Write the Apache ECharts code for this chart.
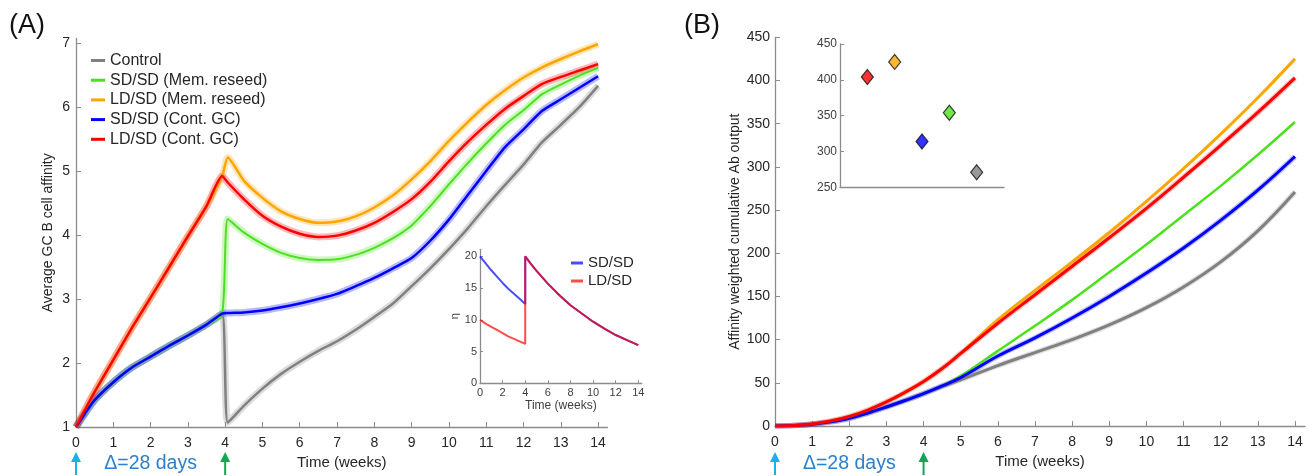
<!DOCTYPE html>
<html><head><meta charset="utf-8">
<script src="https://cdn.jsdelivr.net/npm/echarts@6/dist/echarts.min.js"></script>
<style>html,body{margin:0;padding:0;background:#fff}#c{width:1309px;height:476px}</style>
</head><body><div id="c"></div>
<script>
// ---------------- data ----------------
const weekTicks = [0,1,2,3,4,5,6,7,8,9,10,11,12,13,14];
const insetWeekTicks = [0,2,4,6,8,10,12,14];
const affinityTicks = [1,2,3,4,5,6,7];
const etaTicks = [0,5,10,15,20];

const seriesNames = ['Control','SD/SD (Mem. reseed)','LD/SD (Mem. reseed)','SD/SD (Cont. GC)','LD/SD (Cont. GC)'];

// Panel A: average GC B cell affinity
const timeA1 = [0,0.25,0.5,1,1.5,2,2.5,3,3.5,3.92];
const sdPhase1 = [1.0,1.22,1.42,1.7,1.93,2.1,2.27,2.43,2.6,2.77];
const ldPhase1 = [1.0,1.28,1.55,2.05,2.55,3.02,3.5,3.98,4.45,4.92];
const timeA2 = [4.07,4.5,5,5.5,6,6.5,7,7.5,8,8.5,9,9.5,10,10.5,11,11.5,12,12.5,13,13.5,14];
const controlA2  = [1.07,1.33,1.6,1.83,2.02,2.19,2.34,2.52,2.72,2.93,3.2,3.48,3.78,4.1,4.45,4.78,5.1,5.45,5.72,6.0,6.33];
const sdReseedA2 = [4.25,4.04,3.86,3.72,3.64,3.61,3.62,3.69,3.80,3.95,4.15,4.45,4.79,5.12,5.43,5.72,5.95,6.20,6.35,6.49,6.61];
const ldReseedA2 = [5.21,4.85,4.58,4.37,4.25,4.19,4.21,4.29,4.43,4.62,4.87,5.15,5.47,5.76,6.03,6.26,6.46,6.62,6.75,6.87,6.98];
const sdContA2   = [2.78,2.79,2.82,2.87,2.93,3.0,3.08,3.2,3.33,3.48,3.64,3.91,4.24,4.62,5.0,5.37,5.65,5.94,6.12,6.30,6.48];
const ldContA2   = [4.82,4.56,4.30,4.13,4.02,3.97,3.99,4.07,4.19,4.36,4.56,4.83,5.15,5.45,5.72,5.97,6.17,6.36,6.47,6.57,6.67];

// Panel A inset: eta
const etaT1 = [0,0.5,1,1.5,2,2.5,3,3.5,4];
const etaSD1 = [20,18.9,17.8,16.8,15.8,14.9,14.1,13.3,12.5];
const etaLD1 = [10,9.4,8.9,8.4,7.9,7.4,7.0,6.6,6.2];
const etaT2 = [4,4.5,5,6,7,8,9,10,11,12,13,14];
const etaBoost = [20,18.8,17.7,15.7,13.9,12.3,11.0,9.7,8.6,7.6,6.8,6.0];

// Panel B: affinity weighted cumulative Ab output
const timeB = [0,0.5,1,1.5,2,2.5,3,3.5,4,4.5,5,6,7,8,9,10,11,12,13,14];
const controlB  = [0,0.5,2.0,4.8,8.9,15,22,29.5,37.5,45.5,53.5,70,85,100,117,137,161,190,226,271];
const sdReseedB = [0,0.5,2.0,4.8,8.9,15,22,29.5,37.5,46.5,58,87,116,146,178,210,244,278,314,352];
const ldReseedB = [0,0.6,2.4,5.8,11,18.5,28,39,51.5,66.5,84,123,157,190,224,260,298,338,380,425];
const sdContB   = [0,0.5,2.0,4.8,8.9,15,22,29.5,37.5,46.5,56,81,102,125,150,177,206,238,273,312];
const ldContB   = [0,0.6,2.4,5.8,11,18.5,28,39,51.5,66.5,84,119,152,185,218,252,288,325,363,403];

// Panel B inset: final output per condition
const insetPos  = [1,2,3,4,5];
const insetVals = [404,425,314,354,271];

// ---------------- styles ----------------
const COLORS = ['#808080','#4ce11e','#ffa500','#0000ff','#ff0000'];
const insetColors = ['#ff0000','#ffa500','#0000ff','#4ce11e','#808080'];
const FONT = 'Liberation Sans, Arial, Helvetica, sans-serif';
const AX = '#8c8c8c', TX = '#262626';

const zip = (t, v) => t.map((x, i) => [x, v[i]]);
const tA = timeA1.concat(timeA2);
const dataA = [
  zip(tA, sdPhase1.concat(controlA2)),
  zip(tA, sdPhase1.concat(sdReseedA2)),
  zip(tA, ldPhase1.concat(ldReseedA2)),
  zip(tA, sdPhase1.concat(sdContA2)),
  zip(tA, ldPhase1.concat(ldContA2))
];
const dataB = [controlB, sdReseedB, ldReseedB, sdContB, ldContB].map(v => zip(timeB, v));

function axisCommon(extra) {
  return Object.assign({
    axisLine: {show: true, onZero: false, lineStyle: {color: AX, width: 1.3}},
    splitLine: {show: false},
    nameTextStyle: {color: TX, fontFamily: FONT}
  }, extra);
}

const series = [];
// halos first
dataA.forEach((d, i) => series.push({
  type: 'line', xAxisIndex: 0, yAxisIndex: 0, data: d, symbol: 'none', silent: true,
  smooth: 0.2, color: COLORS[i],
  lineStyle: {color: COLORS[i], width: 7, opacity: 0.28}, z: 2
}));
dataA.forEach((d, i) => series.push({
  name: seriesNames[i], type: 'line', xAxisIndex: 0, yAxisIndex: 0, data: d, symbol: 'none',
  smooth: 0.2, color: COLORS[i],
  lineStyle: {color: COLORS[i], width: i === 1 ? 2 : 2.5}, z: 3
}));
dataB.forEach((d, i) => series.push({
  type: 'line', xAxisIndex: 1, yAxisIndex: 1, data: d, symbol: 'none', silent: true,
  smooth: 0.4, color: COLORS[i],
  lineStyle: {color: COLORS[i], width: 5.5, opacity: i === 1 || i === 2 ? 0 : 0.25}, z: 2
}));
dataB.forEach((d, i) => series.push({
  name: seriesNames[i] + ' ', type: 'line', xAxisIndex: 1, yAxisIndex: 1, data: d, symbol: 'none',
  smooth: 0.4, color: COLORS[i],
  lineStyle: {color: COLORS[i], width: i === 1 ? 2.5 : 3}, z: 3
}));
series.push({
  name: 'SD/SD', type: 'line', xAxisIndex: 2, yAxisIndex: 2, symbol: 'none',
  data: zip(etaT1.concat(etaT2), etaSD1.concat(etaBoost)),
  color: 'rgba(0,0,255,0.7)', lineStyle: {color: 'rgba(0,0,255,0.7)', width: 2}, z: 5
});
series.push({
  name: 'LD/SD', type: 'line', xAxisIndex: 2, yAxisIndex: 2, symbol: 'none',
  data: zip(etaT1.concat(etaT2), etaLD1.concat(etaBoost)),
  color: 'rgba(255,0,0,0.7)', lineStyle: {color: 'rgba(255,0,0,0.7)', width: 2}, z: 6
});
series.push({
  type: 'scatter', xAxisIndex: 3, yAxisIndex: 3, symbol: 'diamond', symbolSize: [12, 15],
  data: insetPos.map((x, i) => ({value: [x, insetVals[i]], itemStyle: {color: insetColors[i]}})),
  itemStyle: {borderColor: '#111', borderWidth: 1.2}, z: 5
});

const chart = echarts.init(document.getElementById('c'), null, {renderer: 'canvas'});
const option = {
  animation: false,
  backgroundColor: '#fff',
  textStyle: {fontFamily: FONT},
  grid: [
    {left: 76, top: 38.5, width: 531.4, height: 388.5},
    {left: 775, top: 37.3, width: 530, height: 388.7},
    {left: 480, top: 249.3, width: 161.7, height: 134},
    {left: 840, top: 44, width: 164, height: 143.3}
  ],
  legend: [
    {data: seriesNames, orient: 'vertical', left: 91, top: 51, padding: 0, itemGap: 0.7,
     icon: 'rect', itemWidth: 14, itemHeight: 3, selectedMode: false,
     textStyle: {fontSize: 16, color: TX, fontFamily: FONT, lineHeight: 19}},
    {data: ['SD/SD', 'LD/SD'], orient: 'vertical', left: 571, top: 254, padding: 0, itemGap: 0,
     icon: 'rect', itemWidth: 12, itemHeight: 3, selectedMode: false,
     textStyle: {fontSize: 15, color: TX, fontFamily: FONT, lineHeight: 18}}
  ],
  xAxis: [
    axisCommon({gridIndex: 0, type: 'value', min: 0, max: 14.25,
      axisTick: {inside: true, length: 5, customValues: weekTicks, lineStyle: {color: AX}},
      axisLabel: {customValues: weekTicks, margin: 9, fontSize: 14, color: TX, fontFamily: FONT},
      name: 'Time (weeks)', nameLocation: 'middle', nameGap: 27,
      nameTextStyle: {fontSize: 15, color: TX, fontFamily: FONT}}),
    axisCommon({gridIndex: 1, type: 'value', min: 0, max: 14.27,
      axisTick: {inside: true, length: 5, customValues: weekTicks, lineStyle: {color: AX}},
      axisLabel: {customValues: weekTicks, margin: 9, fontSize: 14, color: TX, fontFamily: FONT},
      name: 'Time (weeks)', nameLocation: 'middle', nameGap: 27,
      nameTextStyle: {fontSize: 15, color: TX, fontFamily: FONT}}),
    axisCommon({gridIndex: 2, type: 'value', min: 0, max: 14.3,
      axisTick: {inside: true, length: 3, customValues: insetWeekTicks, lineStyle: {color: AX}},
      axisLabel: {customValues: insetWeekTicks, margin: 4, fontSize: 11, color: '#404040', fontFamily: FONT},
      name: 'Time (weeks)', nameLocation: 'middle', nameGap: 16,
      nameTextStyle: {fontSize: 12, color: '#404040', fontFamily: FONT}}),
    axisCommon({gridIndex: 3, type: 'value', min: 0, max: 6,
      axisTick: {show: false}, axisLabel: {show: false}})
  ],
  yAxis: [
    axisCommon({gridIndex: 0, type: 'value', min: 1, max: 7.07,
      axisTick: {inside: true, length: 5, customValues: affinityTicks, lineStyle: {color: AX}},
      axisLabel: {customValues: affinityTicks, margin: 6, fontSize: 14, color: TX, fontFamily: FONT},
      name: 'Average GC B cell affinity', nameLocation: 'middle', nameGap: 21, nameRotate: 90,
      nameTextStyle: {fontSize: 14, color: TX, fontFamily: FONT}}),
    axisCommon({gridIndex: 1, type: 'value', min: 0, max: 450, interval: 50,
      axisTick: {inside: true, length: 5, lineStyle: {color: AX}},
      axisLabel: {margin: 5, fontSize: 14, color: TX, fontFamily: FONT},
      name: 'Affinity weighted cumulative Ab output', nameLocation: 'middle', nameGap: 33, nameRotate: 90,
      nameTextStyle: {fontSize: 14, color: TX, fontFamily: FONT}}),
    axisCommon({gridIndex: 2, type: 'value', min: 0, max: 21.1,
      axisTick: {inside: true, length: 3, customValues: etaTicks, lineStyle: {color: AX}},
      axisLabel: {customValues: etaTicks, margin: 3, fontSize: 11, color: '#404040', fontFamily: FONT},
      name: 'η', nameLocation: 'middle', nameGap: 17, nameRotate: 90,
      nameTextStyle: {fontSize: 11, color: '#404040', fontFamily: FONT}}),
    axisCommon({gridIndex: 3, type: 'value', min: 250, max: 450, interval: 50,
      axisTick: {inside: true, length: 4, lineStyle: {color: AX}},
      axisLabel: {margin: 3, fontSize: 12, color: '#404040', fontFamily: FONT}})
  ],
  series: series
};
chart.setOption(option);

// annotations positioned through the axes
const boostWeek = 4;
function arrow(x, color) {
  const tip = 452, bottom = 475;
  return {type: 'group', children: [
    {type: 'rect', shape: {x: x - 1, y: tip + 6, width: 2, height: bottom - tip - 6}, style: {fill: color}},
    {type: 'polygon', shape: {points: [[x, tip], [x - 5, tip + 10], [x + 5, tip + 10]]}, style: {fill: color}}
  ]};
}
const graphics = [];
[0, 1].forEach(ax => {
  const x0 = chart.convertToPixel({xAxisIndex: ax}, 0);
  const x4 = chart.convertToPixel({xAxisIndex: ax}, boostWeek);
  graphics.push(arrow(x0, '#1cb0ea'));
  graphics.push(arrow(x4, '#13a553'));
  graphics.push({type: 'text', x: (x0 + x4) / 2, y: 464,
    style: {text: 'Δ=28 days', fontSize: 19.5, fill: '#2b80cf', fontFamily: FONT, align: 'center', verticalAlign: 'middle'}});
});
graphics.push({type: 'text', x: 9, y: 25.5, style: {text: '(A)', fontSize: 27, fill: '#111', fontFamily: FONT, verticalAlign: 'middle'}});
graphics.push({type: 'text', x: 684, y: 25.5, style: {text: '(B)', fontSize: 27, fill: '#111', fontFamily: FONT, verticalAlign: 'middle'}});
chart.setOption({graphic: graphics});
</script>
</body></html>
